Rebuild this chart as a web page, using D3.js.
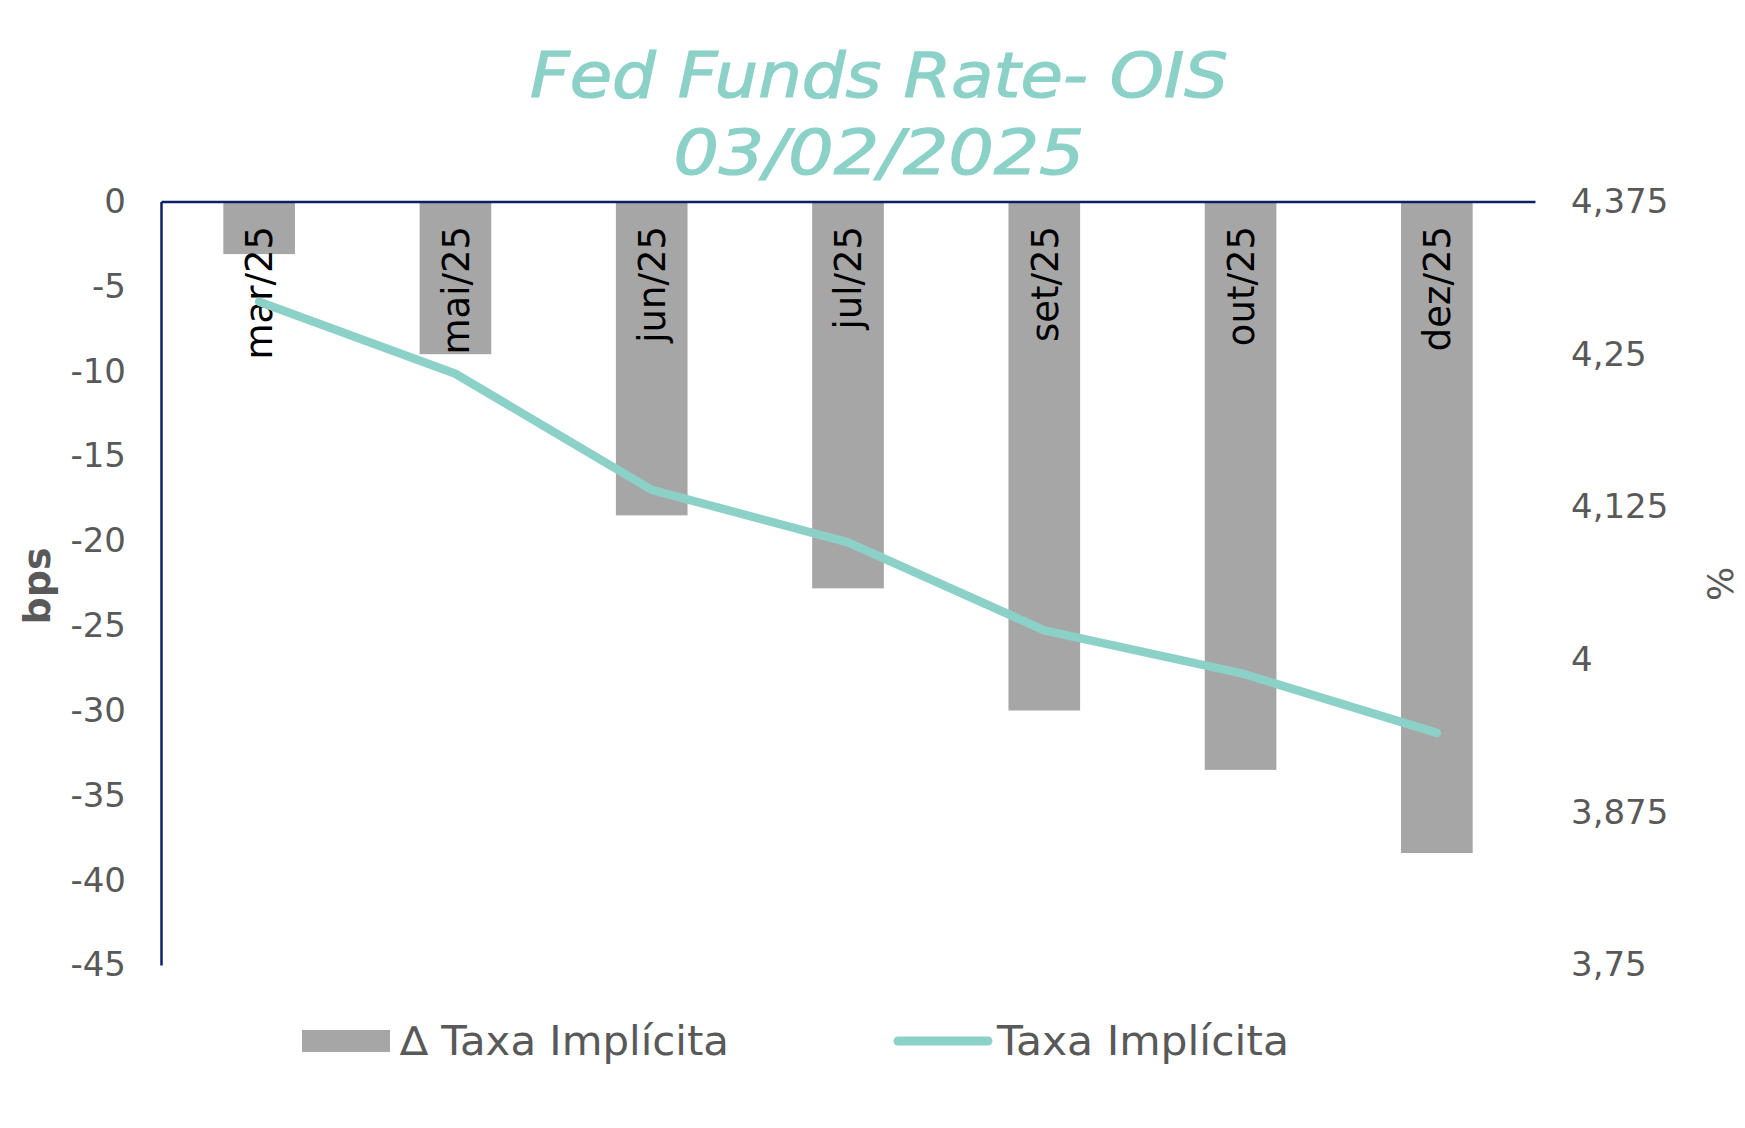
<!DOCTYPE html>
<html>
<head>
<meta charset="utf-8">
<script src="https://cdn.jsdelivr.net/npm/d3@7"></script>
<style>
  html, body { margin: 0; padding: 0; background: #ffffff; }
  svg { display: block; }
</style>
</head>
<body>
<svg id="chart" width="1745" height="1128"></svg>
<script>

// データ
const months = ["mar/25", "mai/25", "jun/25", "jul/25", "set/25", "out/25", "dez/25"];
const deltaBps = [-3.1, -9.0, -18.5, -22.8, -30.0, -33.5, -38.4];
const impliedRate = [4.293, 4.234, 4.139, 4.096, 4.024, 3.989, 3.940];
const bpsTicks = [0, -5, -10, -15, -20, -25, -30, -35, -40, -45];
const rateTicks = [4.375, 4.25, 4.125, 4, 3.875, 3.75];

const titleLines = ["Fed Funds Rate- OIS", "03/02/2025"];
const legendLabels = ["\u2206 Taxa Impl\u00edcita", "Taxa Impl\u00edcita"];

// 色
const barColor = "#a6a6a6";
const lineColor = "#8bd1c7";
const axisColor = "#0c2165";
const textColor = "#595959";
const fontFamily = "'DejaVu Sans', sans-serif";

const svg = d3.select("#chart");

// 描画領域
const plotL = 161, plotR = 1535, plotT = 201.5, plotB = 965;

const x = d3.scaleBand()
  .domain(months)
  .range([plotL, plotR])
  .paddingInner(0.635)
  .paddingOuter(0.3175);

const yL = d3.scaleLinear().domain([-45, 0]).range([plotB, plotT]);
const yR = d3.scaleLinear().domain([3.75, 4.375]).range([plotB, plotT]);

const loc = d3.formatLocale({ decimal: ",", thousands: ".", grouping: [3], currency: ["", ""], minus: "-" });
const fmtRate = loc.format(".3~f");
const fmtBps = loc.format("d");

// タイトル
const titleY = [97, 174];
const titleW = [698, 411];
svg.selectAll("text.title")
  .data(titleLines)
  .enter()
  .append("text")
  .attr("class", "title")
  .attr("x", 879)
  .attr("y", (d, i) => titleY[i])
  .attr("text-anchor", "middle")
  .attr("font-family", fontFamily)
  .attr("font-style", "italic")
  .attr("font-size", 62)
  .attr("textLength", (d, i) => titleW[i])
  .attr("lengthAdjust", "spacingAndGlyphs")
  .attr("fill", lineColor)
  .attr("stroke", lineColor)
  .attr("stroke-width", 1.2)
  .text(d => d);

// 棒
svg.append("g")
  .selectAll("rect")
  .data(deltaBps)
  .enter()
  .append("rect")
  .attr("x", (d, i) => x(months[i]))
  .attr("y", yL(0))
  .attr("width", x.bandwidth())
  .attr("height", d => yL(d) - yL(0))
  .attr("fill", barColor);

// 左軸
const gL = svg.append("g")
  .attr("transform", `translate(${plotL},0)`)
  .call(d3.axisLeft(yL).tickValues(bpsTicks).tickFormat(fmtBps).tickSize(0).tickPadding(35));
gL.select(".domain").attr("stroke", axisColor).attr("stroke-width", 2.5);
gL.selectAll("text")
  .attr("font-family", fontFamily)
  .attr("font-size", 34)
  .attr("fill", textColor);

// 右軸
const gR = svg.append("g")
  .attr("transform", `translate(${plotR},0)`)
  .call(d3.axisRight(yR).tickValues(rateTicks).tickFormat(fmtRate).tickSize(0).tickPadding(36));
gR.select(".domain").remove();
gR.selectAll("text")
  .attr("font-family", fontFamily)
  .attr("font-size", 34)
  .attr("fill", textColor);

// 上側の横軸 (0 の位置)
const gX = svg.append("g")
  .attr("transform", `translate(0,${yL(0)})`)
  .call(d3.axisTop(x).tickSize(0).tickSizeOuter(0).tickFormat(""));
gX.select(".domain").attr("stroke", axisColor).attr("stroke-width", 2.5);

// 月ラベル
svg.append("g")
  .selectAll("text")
  .data(months)
  .enter()
  .append("text")
  .attr("transform", d => `translate(${x(d) + x.bandwidth() / 2},226) rotate(-90)`)
  .attr("dy", "0.36em")
  .attr("text-anchor", "end")
  .attr("font-family", fontFamily)
  .attr("font-size", 37)
  .attr("fill", "#000000")
  .text(d => d);

// 折れ線
const line = d3.line()
  .x((d, i) => x(months[i]) + x.bandwidth() / 2)
  .y(d => yR(d));

svg.append("path")
  .datum(impliedRate)
  .attr("d", line)
  .attr("fill", "none")
  .attr("stroke", lineColor)
  .attr("stroke-width", 8.5)
  .attr("stroke-linejoin", "round")
  .attr("stroke-linecap", "round");

// 軸タイトル
svg.append("text")
  .attr("transform", "translate(50,586) rotate(-90)")
  .attr("text-anchor", "middle")
  .attr("font-family", fontFamily)
  .attr("font-weight", "bold")
  .attr("font-size", 38)
  .attr("fill", textColor)
  .text("bps");

svg.append("text")
  .attr("transform", "translate(1733,584) rotate(-90)")
  .attr("text-anchor", "middle")
  .attr("font-family", fontFamily)
  .attr("font-size", 36)
  .attr("fill", textColor)
  .text("%");

// レジェンド
const lg = svg.append("g").attr("class", "legend");
lg.append("rect")
  .attr("x", 302).attr("y", 1030)
  .attr("width", 88).attr("height", 22)
  .attr("fill", barColor);
lg.append("line")
  .attr("x1", 898).attr("x2", 988)
  .attr("y1", 1041).attr("y2", 1041)
  .attr("stroke", lineColor)
  .attr("stroke-width", 9)
  .attr("stroke-linecap", "round");

const legendX = [400, 997];
const legendW = [329, 292];
lg.selectAll("text")
  .data(legendLabels)
  .enter()
  .append("text")
  .attr("x", (d, i) => legendX[i])
  .attr("y", 1055)
  .attr("font-family", fontFamily)
  .attr("font-size", 40)
  .attr("textLength", (d, i) => legendW[i])
  .attr("lengthAdjust", "spacingAndGlyphs")
  .attr("fill", textColor)
  .text(d => d);

</script>
</body>
</html>
